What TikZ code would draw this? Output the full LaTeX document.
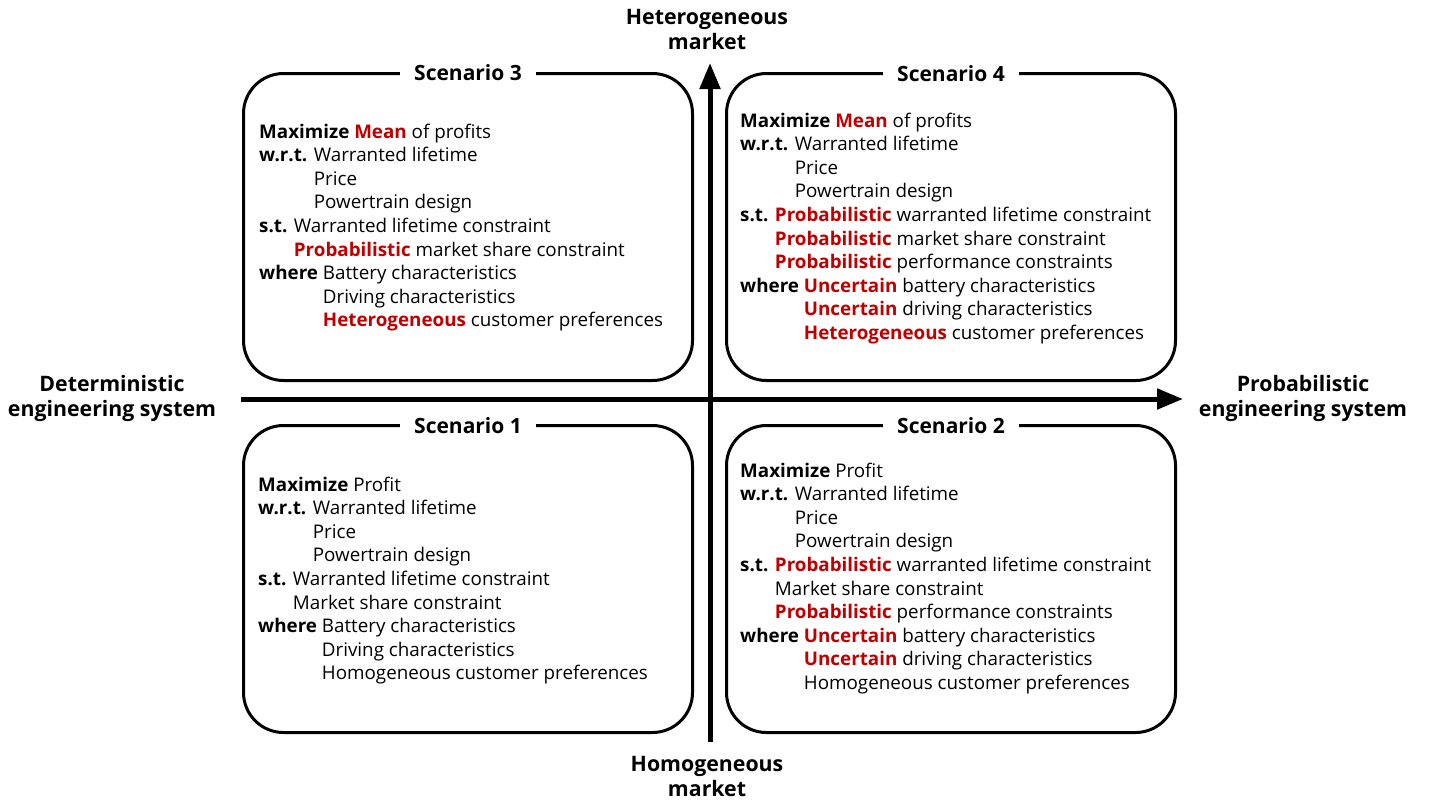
\documentclass[tikz,border=0pt]{standalone}
\usepackage{fontspec}
\setmainfont{Open Sans}
\usetikzlibrary{arrows.meta}
\definecolor{hlred}{HTML}{C00000}
\newcommand{\redb}[1]{\textcolor{hlred}{\textbf{#1}}}
\newcommand{\ind}[1]{\hphantom{\textbf{#1} }}
\tikzset{
  scen/.style={draw, line width=3pt, rounded corners=40pt, minimum width=449pt, minimum height=307pt, anchor=north west, inner sep=0pt},
  sctitle/.style={fill=white, font=\bfseries\fontsize{21}{23}\selectfont, inner xsep=14pt, inner ysep=3pt},
  body/.style={anchor=north west, align=left, font=\fontsize{18.8}{23.6}\selectfont, inner sep=0pt},
  axislabel/.style={align=center, font=\bfseries\fontsize{21.3}{25}\selectfont, inner sep=0pt},
  axisarrow/.style={line width=5pt, -{Triangle[length=26pt,width=20pt]}},
}
\begin{document}
\begin{tikzpicture}[x=1pt,y=-1pt]
\useasboundingbox (0,0) rectangle (1431,804);
% boxes
\node[scen] (b3) at (242,72) {};
\node[scen] (b4) at (725,72) {};
\node[scen] (b1) at (242,424) {};
\node[scen] (b2) at (725,424) {};
% axes
\coordinate (hl) at (241,399);
\coordinate (hr) at (1183,399);
\coordinate (vb) at (710,742);
\coordinate (vt) at (710,63);
\draw[axisarrow] (hl) -- (hr);
\draw[axisarrow] (vb) -- (vt);
% titles
\node[sctitle] (t3) at ([yshift=-1pt]b3.north) {Scenario 3};
\node[sctitle] (t4) at ([yshift=-2pt]b4.north) {Scenario 4};
\node[sctitle] (t1) at ([yshift=-2pt]b1.north) {Scenario 1};
\node[sctitle] (t2) at ([yshift=-2pt]b2.north) {Scenario 2};
% axis labels
\node[axislabel] (lt) at (707,29) {Heterogeneous\\market};
\node[axislabel] (lb) at (707,776) {Homogeneous\\market};
\node[axislabel] (ll) at (112,398) {Deterministic\\engineering system};
\node[axislabel] (lr) at (1303,398) {Probabilistic\\engineering system};
% bodies
\node[body] (x3) at (259,123.5) {\textbf{Maximize} \redb{Mean} of profits\\
\textbf{w.r.t.} Warranted lifetime\\
\ind{w.r.t.}Price\\
\ind{w.r.t.}Powertrain design\\
\textbf{s.t.} Warranted lifetime constraint\\
\ind{s.t.}\redb{Probabilistic} market share constraint\\
\textbf{where} Battery characteristics\\
\ind{where}Driving characteristics\\
\ind{where}\redb{Heterogeneous} customer preferences};
\node[body] (x4) at (740,112.5) {\textbf{Maximize} \redb{Mean} of profits\\
\textbf{w.r.t.} Warranted lifetime\\
\ind{w.r.t.}Price\\
\ind{w.r.t.}Powertrain design\\
\textbf{s.t.} \redb{Probabilistic} warranted lifetime constraint\\
\ind{s.t.}\redb{Probabilistic} market share constraint\\
\ind{s.t.}\redb{Probabilistic} performance constraints\\
\textbf{where} \redb{Uncertain} battery characteristics\\
\ind{where}\redb{Uncertain} driving characteristics\\
\ind{where}\redb{Heterogeneous} customer preferences};
\node[body] (x1) at (258,476.5) {\textbf{Maximize} Profit\\
\textbf{w.r.t.} Warranted lifetime\\
\ind{w.r.t.}Price\\
\ind{w.r.t.}Powertrain design\\
\textbf{s.t.} Warranted lifetime constraint\\
\ind{s.t.}Market share constraint\\
\textbf{where} Battery characteristics\\
\ind{where}Driving characteristics\\
\ind{where}Homogeneous customer preferences};
\node[body] (x2) at (740,462.5) {\textbf{Maximize} Profit\\
\textbf{w.r.t.} Warranted lifetime\\
\ind{w.r.t.}Price\\
\ind{w.r.t.}Powertrain design\\
\textbf{s.t.} \redb{Probabilistic} warranted lifetime constraint\\
\ind{s.t.}Market share constraint\\
\ind{s.t.}\redb{Probabilistic} performance constraints\\
\textbf{where} \redb{Uncertain} battery characteristics\\
\ind{where}\redb{Uncertain} driving characteristics\\
\ind{where}Homogeneous customer preferences};
\end{tikzpicture}
\end{document}
